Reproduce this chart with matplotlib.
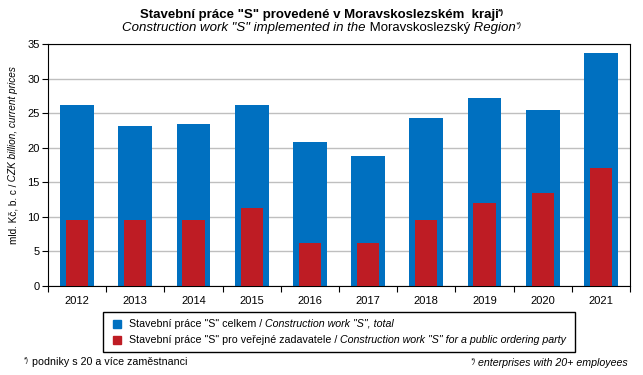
import matplotlib
matplotlib.use("Agg")
import matplotlib.pyplot as plt
from matplotlib.patches import Rectangle
import numpy as np

plt.rcParams['font.family'] = ['Liberation Sans', 'DejaVu Sans']

years = ['2012', '2013', '2014', '2015', '2016', '2017', '2018', '2019', '2020', '2021']
total = [26.2, 23.1, 23.4, 26.2, 20.8, 18.8, 24.3, 27.2, 25.5, 33.7]
public = [9.6, 9.5, 9.6, 11.3, 6.2, 6.2, 9.5, 12.0, 13.4, 17.1]

BLUE = '#0070C0'
RED = '#BE1C24'
W, H = 643, 375

fig = plt.figure(figsize=(W / 100, H / 100), dpi=100)
ax = fig.add_axes([48 / W, 1 - 286 / H, (630 - 48) / W, (286 - 44) / H])
x = np.arange(len(years))
ax.bar(x, total, width=0.58, color=BLUE, zorder=2)
ax.bar(x, public, width=0.38, color=RED, zorder=3)

ax.set_xlim(-0.5, len(years) - 0.5)
ax.set_ylim(0, 35)
ax.set_yticks(range(0, 36, 5))
ax.set_xticks(x)
ax.set_xticklabels(years, fontsize=8)
ax.tick_params(axis='x', length=0, pad=7)
ax.set_xticks(np.arange(-0.5, len(years)), minor=True)
ax.tick_params(axis='x', which='minor', length=4, width=0.8, direction='out')
ax.tick_params(axis='y', labelsize=8, length=4, width=0.8, direction='out', pad=2)
ax.yaxis.grid(True, color='#BFBFBF', linewidth=1)
ax.set_axisbelow(True)
for s in ax.spines.values():
    s.set_linewidth(0.8)

renderer = fig.canvas.get_renderer()


def rich(px, py, parts, rotation=0, align='left'):
    # parts: (text, size, weight, style, dy)
    items = []
    for txt, size, weight, style, dy in parts:
        t = fig.text(0, 0, txt, fontsize=size, fontweight=weight, fontstyle=style,
                     rotation=rotation, ha='left', va='baseline' if rotation == 0 else 'center')
        bb = t.get_window_extent(renderer)
        items.append((t, bb, dy))
    if rotation == 0:
        tot = sum(bb.width for _, bb, _ in items)
        cx = px - tot / 2 if align == 'center' else (px - tot if align == 'right' else px)
        for t, bb, dy in items:
            t.set_position((cx / W, 1 - (py - dy) / H))
            cx += bb.width
    else:
        tot = sum(bb.height for _, bb, _ in items)
        cy = py + tot / 2
        for t, bb, dy in items:
            t.set_ha('center')
            t.set_va('bottom')
            t.set_position(((px - dy) / W, 1 - cy / H))
            cy -= bb.height


# title
rich(322, 18, [('Stavební práce "S" provedené v Moravskoslezském  kraji', 9.5, 'bold', 'normal', 0),
               ('*)', 6, 'bold', 'normal', 4)], align='center')
rich(322, 31, [('Construction work "S" implemented in the', 9.5, 'normal', 'italic', 0),
               (' Moravskoslezský', 9.5, 'normal', 'normal', 0),
               (' Region', 9.5, 'normal', 'italic', 0),
               ('*)', 6, 'normal', 'italic', 4)], align='center')

# y label
rich(13, 155, [('mld. Kč, b. c /', 7.2, 'normal', 'normal', 0),
               (' CZK billion, current prices', 7.2, 'normal', 'italic', 0)], rotation=90)

# legend
fig.patches.append(Rectangle((103 / W, 1 - 352 / H), (575 - 103) / W, 40 / H,
                             transform=fig.transFigure, fill=False, edgecolor='black',
                             linewidth=1, figure=fig))
fig.patches.append(Rectangle((113 / W, 1 - 328 / H), 8 / W, 8 / H, transform=fig.transFigure,
                             color=BLUE, figure=fig))
fig.patches.append(Rectangle((113 / W, 1 - 344 / H), 8 / W, 8 / H, transform=fig.transFigure,
                             color=RED, figure=fig))
rich(129, 327, [('Stavební práce "S" celkem /', 7.65, 'normal', 'normal', 0),
                (' Construction work "S", total', 7.65, 'normal', 'italic', 0)])
rich(129, 343, [('Stavební práce "S" pro veřejné zadavatele /', 7.65, 'normal', 'normal', 0),
                (' Construction work "S" for a public ordering party', 7.65, 'normal', 'italic', 0)])

# footnotes
rich(24, 365, [('*)', 5, 'normal', 'normal', 3),
               (' podniky s 20 a více zaměstnanci', 7.65, 'normal', 'normal', 0)])
rich(628, 366, [('*)', 5, 'normal', 'italic', 3),
                (' enterprises with 20+ employees', 7.65, 'normal', 'italic', 0)], align='right')

fig.savefig('out.png', dpi=100)
